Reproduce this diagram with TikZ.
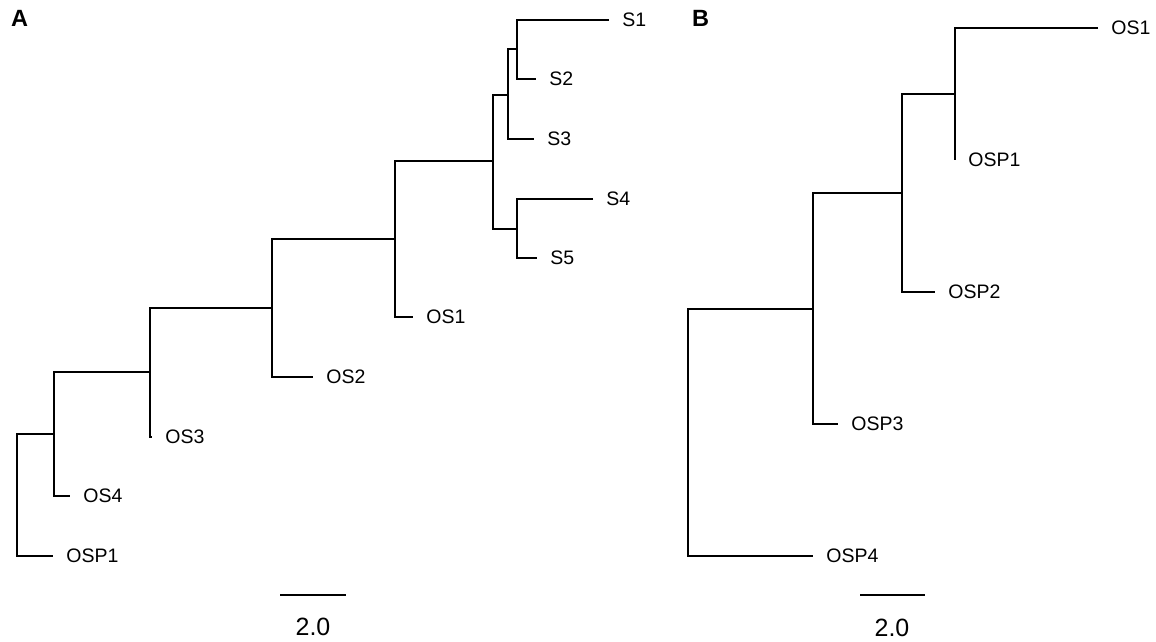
\documentclass[tikz,border=0pt]{standalone}
\usepackage{fontspec}
\setmainfont{Liberation Sans}
\begin{document}
\begin{tikzpicture}[x=0.5pt, y=-0.5pt,
  branch/.style={line width=1pt, line join=miter},
  leaflab/.style={anchor=west, inner sep=0pt, xshift=6.5pt, font=\fontsize{9.75}{11}\selectfont},
  panel/.style={inner sep=0pt, font=\fontsize{11.75}{13}\selectfont\bfseries},
  scalebar/.style={line width=1.2pt},
  scalelab/.style={inner sep=0pt, font=\fontsize{12.5}{14}\selectfont}]
\useasboundingbox (0,0) rectangle (1156,642);

% ---------- tree A ----------
\node[panel] (pA) at (19.5,18.5) {A};
% internal nodes
\coordinate (a0) at (17,495);
\coordinate (a1) at (54,434);
\coordinate (a2) at (150,372);
\coordinate (a3) at (272,307.5);
\coordinate (a4) at (395,239);
\coordinate (a5) at (493,161);
\coordinate (a6) at (508,95);
\coordinate (a7) at (517,49.5);
\coordinate (a8) at (517,228.5);
% tips
\coordinate (tOSP1) at (53,556);
\coordinate (tOS4) at (70,496);
\coordinate (tOS3) at (152,437);
\coordinate (tOS2) at (313,377);
\coordinate (tOS1) at (413,317);
\coordinate (tS1) at (609,20);
\coordinate (tS2) at (536,79);
\coordinate (tS3) at (534,139);
\coordinate (tS4) at (593,199);
\coordinate (tS5) at (537,258);
% branches
\draw[branch] (a1) -| (a0) |- (tOSP1);
\draw[branch] (a2) -| (a1) |- (tOS4);
\draw[branch] (a3) -| (a2) |- (tOS3);
\draw[branch] (a4) -| (a3) |- (tOS2);
\draw[branch] (a5) -| (a4) |- (tOS1);
\draw[branch] (a6) -| (a5) |- (a8);
\draw[branch] (a7) -| (a6) |- (tS3);
\draw[branch] (tS1) -| (a7) |- (tS2);
\draw[branch] (tS4) -| (a8) |- (tS5);
% tip labels
\node[leaflab] (lOSP1) at (tOSP1) {OSP1};
\node[leaflab] (lOS4) at (tOS4) {OS4};
\node[leaflab] (lOS3) at (tOS3) {OS3};
\node[leaflab] (lOS2) at (tOS2) {OS2};
\node[leaflab] (lOS1) at (tOS1) {OS1};
\node[leaflab] (lS1) at (tS1) {S1};
\node[leaflab] (lS2) at (tS2) {S2};
\node[leaflab] (lS3) at (tS3) {S3};
\node[leaflab] (lS4) at (tS4) {S4};
\node[leaflab] (lS5) at (tS5) {S5};
% scale bar
\coordinate (sA1) at (280,595);
\coordinate (sA2) at (346,595);
\draw[scalebar] (sA1) -- (sA2);
\node[scalelab] (sAlab) at (313,627) {2.0};

% ---------- tree B ----------
\node[panel] (pB) at (700.5,18.5) {B};
\coordinate (b0) at (688,432.5);
\coordinate (b1) at (813,308.5);
\coordinate (b2) at (902,193);
\coordinate (b3) at (955,94);
\coordinate (uOS1) at (1098,28);
\coordinate (uOSP1) at (955,160);
\coordinate (uOSP2) at (935,292);
\coordinate (uOSP3) at (838,424);
\coordinate (uOSP4) at (813,556);
\draw[branch] (b1) -| (b0) |- (uOSP4);
\draw[branch] (b2) -| (b1) |- (uOSP3);
\draw[branch] (b3) -| (b2) |- (uOSP2);
\draw[branch] (uOS1) -| (b3) -- (uOSP1);
\node[leaflab] (mOS1) at (uOS1) {OS1};
\node[leaflab] (mOSP1) at (uOSP1) {OSP1};
\node[leaflab] (mOSP2) at (uOSP2) {OSP2};
\node[leaflab] (mOSP3) at (uOSP3) {OSP3};
\node[leaflab] (mOSP4) at (uOSP4) {OSP4};
\coordinate (sB1) at (860,595);
\coordinate (sB2) at (925,595);
\draw[scalebar] (sB1) -- (sB2);
\node[scalelab] (sBlab) at (892,628) {2.0};
\end{tikzpicture}
\end{document}
